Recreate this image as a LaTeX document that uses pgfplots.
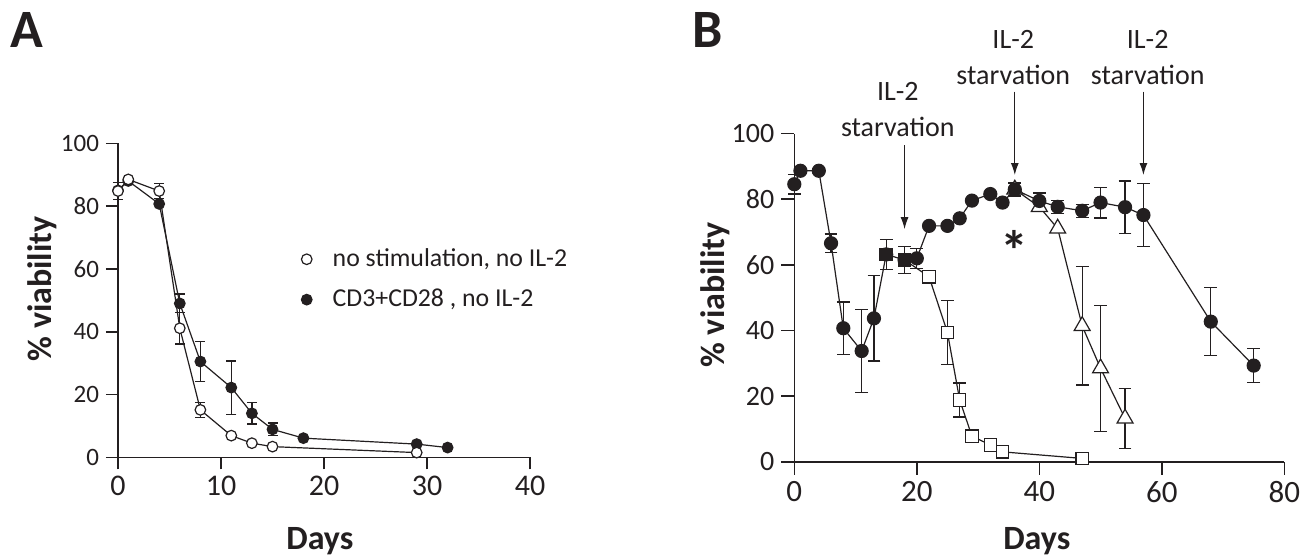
\documentclass[border=0pt]{standalone}
\usepackage{fontspec}
\setmainfont{Carlito}
\usepackage{pgfplots}
\usepackage{pgfplotstable}
\pgfplotsset{compat=1.18}
\usetikzlibrary{arrows.meta}
\definecolor{ink}{RGB}{35,31,32}

% Panel A
\pgfplotstableread{
x y
0 85
1 88
4 80.7
6 49.0
8 30.5
11 22.2
13 14.0
15 8.9
18 6.1
29 4.2
32 3.1
}\Afill
\pgfplotstableread{
x y e
6 49.0 3
8 30.5 6.4
11 22.2 8.5
13 14.0 3.4
15 8.9 2
}\Afillerr
\pgfplotstableread{
x y
0 84.8
1 88.5
4 84.8
6 41.1
8 15.1
11 6.9
13 4.5
15 3.4
29 1.5
}\Aopen
\pgfplotstableread{
x y e
0 84.8 2.8
4 84.8 2.3
6 41.1 5
8 15.1 2.3
}\Aopenerr

% Panel B
\pgfplotstableread{
x y
0 84.6
1 88.7
4 88.7
6 66.6
8 40.7
11 33.75
13 43.7
15 63.2
18 61.5
20 62
22 71.9
25 71.9
27 74.2
29 79.6
32 81.6
34 79.0
36 83.0
40 79.5
43 77.7
47 76.5
50 79.0
54 77.6
57 75.2
68 42.7
75 29.3
}\Bcirc
\pgfplotstableread{
x y e
0 84.6 3
6 66.6 2.8
8 40.7 8
11 33.75 12.6
13 43.7 13
15 63.2 4.5
18 61.5 4
20 62 3
36 83.0 2
40 79.5 2.4
43 77.7 2
47 76.5 2
50 79.0 4.7
54 77.6 8
57 75.2 9.7
68 42.7 10.4
75 29.3 5.2
}\Bcircerr
\pgfplotstableread{
x y
18 61.5
22 56.4
25 39.4
27 18.8
29 7.8
32 5.1
34 3.0
47 1.0
}\Bsq
\pgfplotstableread{
x y
15 63.2
18 61.5
}\Bsqfill
\pgfplotstableread{
x y e
25 39.4 9.8
27 18.8 5.2
29 7.8 2
}\Bsqerr
\pgfplotstableread{
x y
36 83.0
40 77.7
43 71.1
47 41.4
50 28.5
54 13.2
}\Btri
\pgfplotstableread{
x y e
47 41.4 18
50 28.5 19.2
54 13.2 9.2
}\Btrierr

\begin{document}
\begin{tikzpicture}
\path[use as bounding box] (0pt,0pt) rectangle (655.5pt,279pt);
\pgfplotsset{
  common/.style={
    scale only axis, axis lines=left,
    axis line style={-, line width=0.8pt, draw=ink},
    tick align=outside, major tick length=6pt,
    tick style={line width=0.8pt, draw=ink},
    enlargelimits=false, clip=false,
    /pgf/number format/assume math mode=true,
    ymin=0, ymax=100, ytick={0,20,...,100},
    ticklabel style={text=ink},
    every axis y label/.style={rotate=90, anchor=center, text=ink, font=\fontsize{17}{20}\selectfont\bfseries},
    every axis x label/.style={anchor=base, text=ink, font=\fontsize{17}{20}\selectfont\bfseries},
  },
  errA/.style={forget plot, only marks, mark=none,
    error bars/.cd, y dir=both, y explicit,
    error bar style={line width=0.6pt, draw=ink},
    error mark options={rotate=90, mark size=2.5pt, line width=0.6pt, draw=ink}},
  errB/.style={forget plot, only marks, mark=none,
    error bars/.cd, y dir=both, y explicit,
    error bar style={line width=0.6pt, draw=ink},
    error mark options={rotate=90, mark size=3.2pt, line width=0.6pt, draw=ink}},
}

\node[anchor=base west, inner sep=0pt, text=ink, font=\fontsize{27}{30}\selectfont\bfseries] at (5pt,255pt) {A};
\node[anchor=base west, inner sep=0pt, text=ink, font=\fontsize{27}{30}\selectfont\bfseries] at (346pt,255pt) {B};

\begin{axis}[common,
  at={(59pt,50.35pt)}, anchor=south west,
  width=206pt, height=157pt,
  xmin=0, xmax=40, xtick={0,10,...,40},
  xticklabel style={font=\fontsize{15}{17}\selectfont},
  yticklabel style={font=\fontsize{12.5}{14}\selectfont},
  xlabel={Days}, ylabel={\% viability},
  xlabel style={at={(axis description cs:0.49,-0.295)}},
  ylabel style={at={(axis description cs:-0.184,0.536)}},
  legend style={at={(axis cs:17.77,67.8)}, anchor=north west, draw=none, fill=none,
    font=\fontsize{12.9}{15}\selectfont, row sep=5.8pt, inner sep=0pt,
    nodes={inner sep=2pt, text=ink}},
  legend cell align=left, reverse legend,
  legend image code/.code={\draw[#1] plot coordinates {(0cm,0cm)}; \path[draw=none,fill=none] (-2.65pt,0pt) -- (11pt,0pt);},
]
\addplot[errA] table[x=x,y=y,y error=e] {\Afillerr};
\addplot[errA] table[x=x,y=y,y error=e] {\Aopenerr};
\addplot[ink, line width=0.6pt, mark=*, mark size=2.65pt, mark options={fill=ink, draw=ink, line width=0.6pt}] table[x=x,y=y] {\Afill};
\addplot[ink, line width=0.6pt, mark=*, mark size=2.65pt, mark options={fill=white, draw=ink, line width=0.6pt}] table[x=x,y=y] {\Aopen};
\legend{{CD3+CD28 , no IL-2},{no stimulation, no IL-2}}
\end{axis}

\begin{axis}[common,
  at={(397.15pt,48.15pt)}, anchor=south west,
  width=245pt, height=164pt,
  xmin=0, xmax=80, xtick={0,20,...,80},
  major tick length=6.5pt,
  xticklabel style={font=\fontsize{15.5}{17}\selectfont},
  yticklabel style={font=\fontsize{14}{16}\selectfont},
  xlabel={Days}, ylabel={\% viability},
  xlabel style={at={(axis description cs:0.495,-0.267)}},
  ylabel style={at={(axis description cs:-0.162,0.508)}},
]
\addplot[errB] table[x=x,y=y,y error=e] {\Btrierr};
\addplot[errB] table[x=x,y=y,y error=e] {\Bsqerr};
\addplot[errB] table[x=x,y=y,y error=e] {\Bcircerr};
\addplot[ink, line width=0.6pt, mark=triangle*, mark size=4.6pt, mark options={fill=white, draw=ink, line width=0.6pt}] table[x=x,y=y] {\Btri};
\addplot[ink, line width=0.6pt, mark=square*, mark size=3.1pt, mark options={fill=white, draw=ink, line width=0.6pt}] table[x=x,y=y] {\Bsq};
\addplot[ink, line width=0.6pt, mark=*, mark size=3.25pt, mark options={fill=ink, draw=ink, line width=0.6pt}] table[x=x,y=y] {\Bcirc};
\addplot[only marks, mark=square*, mark size=3.1pt, mark options={fill=ink, draw=ink, line width=0.6pt}] table[x=x,y=y] {\Bsqfill};

\begin{scope}[font=\fontsize{14}{16}\selectfont, text=ink]
\node[anchor=base] at (axis cs:16.9,110.0) {IL-2};
\node[anchor=base] at (axis cs:16.9,99.0) {starvation};
\node[anchor=base] at (axis cs:35.75,126.1) {IL-2};
\node[anchor=base] at (axis cs:35.75,115.1) {starvation};
\node[anchor=base] at (axis cs:57.7,126.1) {IL-2};
\node[anchor=base] at (axis cs:57.7,115.1) {starvation};
\end{scope}
\draw[ink, line width=0.6pt, -{Latex[length=6pt,width=4pt]}] (axis cs:18,96.5) -- (axis cs:18,70.9);
\draw[ink, line width=0.6pt, -{Latex[length=6pt,width=4pt]}] (axis cs:36,112.8) -- (axis cs:36,87.4);
\draw[ink, line width=0.6pt, -{Latex[length=6pt,width=4pt]}] (axis cs:57,112.8) -- (axis cs:57,87.4);
\node[anchor=base, inner sep=0pt, text=ink, font=\fontsize{28}{30}\selectfont\bfseries] at (axis cs:36,58.3) {*};
\end{axis}
\end{tikzpicture}
\end{document}
